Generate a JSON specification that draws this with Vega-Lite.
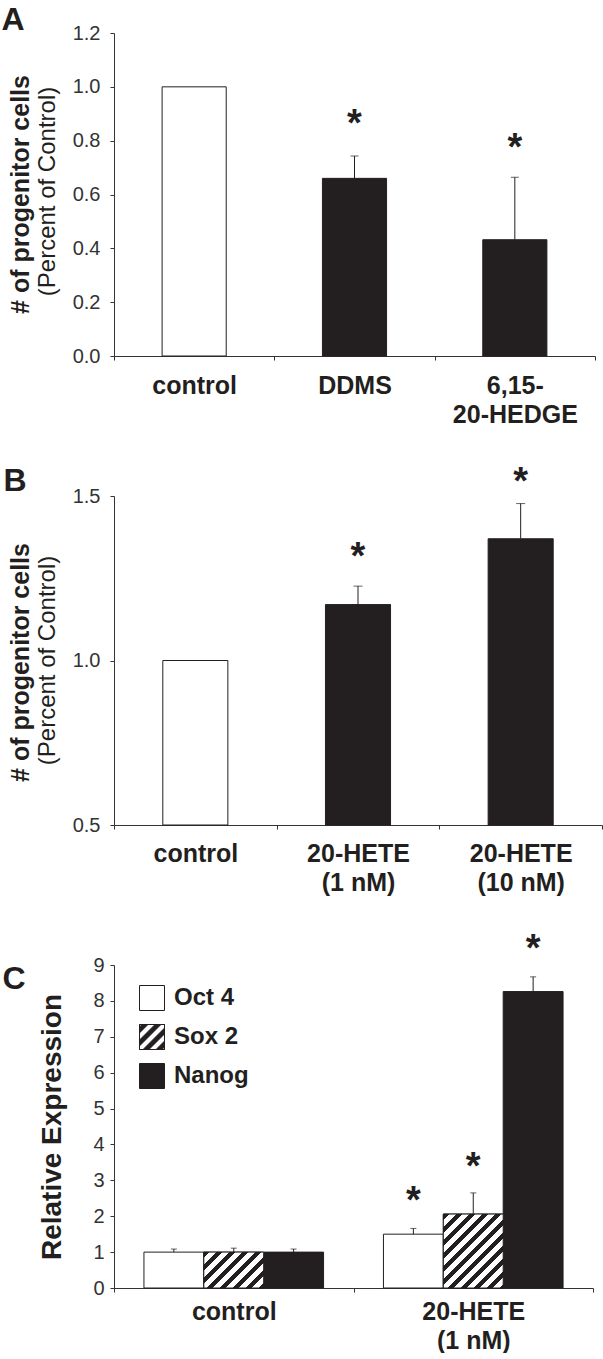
{
  "$schema": "https://vega.github.io/schema/vega-lite/v6.json",
  "autosize": {"type": "pad"},
  "padding": {"left": 1, "top": 3, "right": 0, "bottom": 0},
  "background": "white",
  "spacing": 140,
  "bounds": "flush",
  "resolve": {"scale": {"fill": "independent", "stroke": "independent", "shape": "independent", "x": "independent", "y": "independent", "xOffset": "independent"}, "legend": {"fill": "independent", "stroke": "independent", "shape": "independent"}},
  "datasets": {
    "a": [
      {"cat": "control", "kind": "control", "value": 1.0, "upper": null, "star": null},
      {"cat": "DDMS", "kind": "treated", "value": 0.66, "upper": 0.743, "star": 0.89},
      {"cat": "6,15-|20-HEDGE", "kind": "treated", "value": 0.432, "upper": 0.664, "star": 0.801}
    ],
    "b": [
      {"cat": "control", "kind": "control", "value": 1.0, "upper": null, "star": null},
      {"cat": "20-HETE|(1 nM)", "kind": "treated", "value": 1.17, "upper": 1.226, "star": 1.34},
      {"cat": "20-HETE|(10 nM)", "kind": "treated", "value": 1.37, "upper": 1.477, "star": 1.568}
    ],
    "c": [
      {"group": "control", "gene": "Oct 4", "value": 1.0, "upper": 1.085, "star": null},
      {"group": "control", "gene": "Sox 2", "value": 1.0, "upper": 1.11, "star": null},
      {"group": "control", "gene": "Nanog", "value": 1.0, "upper": 1.085, "star": null},
      {"group": "20-HETE|(1 nM)", "gene": "Oct 4", "value": 1.5, "upper": 1.66, "star": 2.66},
      {"group": "20-HETE|(1 nM)", "gene": "Sox 2", "value": 2.06, "upper": 2.65, "star": 3.59},
      {"group": "20-HETE|(1 nM)", "gene": "Nanog", "value": 8.26, "upper": 8.67, "star": 9.68}
    ]
  },
  "vconcat": [
    {
      "width": 481,
      "height": 323,
      "data": {"name": "a"},
      "encoding": {
        "x": {
          "field": "cat", "type": "nominal", "sort": null,
          "scale": {"domain": ["control", "DDMS", "6,15-|20-HEDGE"], "paddingInner": 0, "paddingOuter": 0},
          "axis": {"title": null, "labelAngle": 0, "labelFontSize": 25, "labelFontWeight": "bold", "labelColor": "#231f20", "labelLineHeight": 29, "labelPadding": 13, "labelBaseline": "top", "tickSize": 4, "tickBand": "extent", "labelExpr": "split(datum.label, '|')"}
        }
      },
      "layer": [
        {
          "mark": {"type": "bar", "width": {"band": 0.4}, "stroke": "#231f20", "strokeWidth": 1},
          "encoding": {
            "y": {"field": "value", "type": "quantitative", "scale": {"domain": [0, 1.2], "nice": false},
              "axis": {"orient": "left", "values": [0, 0.2, 0.4, 0.6, 0.8, 1.0, 1.2], "format": ".1f", "labelFontSize": 20, "labelPadding": 10, "tickSize": 4,
                "title": "(Percent of Control)", "titleFontSize": 24, "titleFontWeight": "normal", "titleX": -66.5, "titleY": 158, "titleAngle": -90, "titleAlign": "center", "titleBaseline": "middle"}},
            "fill": {"field": "kind", "type": "nominal", "scale": {"domain": ["control", "treated"], "range": ["#ffffff", "#231f20"]}, "legend": null}
          }
        },
        {
          "transform": [{"filter": "datum.upper != null"}],
          "mark": {"type": "rule", "color": "#231f20", "strokeWidth": 1},
          "encoding": {
            "y": {"field": "value", "type": "quantitative", "scale": {"domain": [0, 1.2], "nice": false},
              "axis": {"orient": "left", "labels": false, "ticks": false, "domain": false,
                "title": "# of progenitor cells", "titleFontSize": 25, "titleFontWeight": "bold", "titleX": -94, "titleY": 161, "titleAngle": -90, "titleAlign": "center", "titleBaseline": "middle"}},
            "y2": {"field": "upper"}
          }
        },
        {
          "transform": [{"filter": "datum.upper != null"}],
          "mark": {"type": "tick", "size": 8, "thickness": 1, "color": "#231f20"},
          "encoding": {
            "y": {"field": "upper", "type": "quantitative", "scale": {"domain": [0, 1.2], "nice": false}, "axis": null}
          }
        },
        {
          "transform": [{"filter": "datum.star != null"}],
          "mark": {"type": "text", "text": "*", "fontSize": 38, "fontWeight": "bold", "baseline": "middle", "dy": 9, "color": "#231f20"},
          "encoding": {
            "y": {"field": "star", "type": "quantitative", "scale": {"domain": [0, 1.2], "nice": false},
              "axis": {"orient": "left", "labels": false, "ticks": false, "domain": false,
                "title": "A", "titleFontSize": 32, "titleFontWeight": "bold", "titleAngle": 0, "titleAlign": "left", "titleBaseline": "alphabetic", "titleX": -113, "titleY": -4}}
          }
        }
      ],
      "resolve": {"axis": {"y": "independent"}}
    },
    {
      "width": 488,
      "height": 329,
      "data": {"name": "b"},
      "encoding": {
        "x": {
          "field": "cat", "type": "nominal", "sort": null,
          "scale": {"domain": ["control", "20-HETE|(1 nM)", "20-HETE|(10 nM)"], "paddingInner": 0, "paddingOuter": 0},
          "axis": {"title": null, "labelAngle": 0, "labelFontSize": 25, "labelFontWeight": "bold", "labelColor": "#231f20", "labelLineHeight": 29, "labelPadding": 12, "labelBaseline": "top", "tickSize": 4, "tickBand": "extent", "labelExpr": "split(datum.label, '|')"}
        }
      },
      "layer": [
        {
          "mark": {"type": "bar", "width": {"band": 0.4}, "stroke": "#231f20", "strokeWidth": 1},
          "encoding": {
            "y": {"field": "value", "type": "quantitative", "scale": {"domain": [0.5, 1.5], "nice": false, "zero": false},
              "axis": {"orient": "left", "values": [0.5, 1.0, 1.5], "format": ".1f", "labelFontSize": 20, "labelPadding": 10, "tickSize": 4,
                "title": "(Percent of Control)", "titleFontSize": 24, "titleFontWeight": "normal", "titleX": -66.5, "titleY": 164, "titleAngle": -90, "titleAlign": "center", "titleBaseline": "middle"}},
            "y2": {"datum": 0.5},
            "fill": {"field": "kind", "type": "nominal", "scale": {"domain": ["control", "treated"], "range": ["#ffffff", "#231f20"]}, "legend": null}
          }
        },
        {
          "transform": [{"filter": "datum.upper != null"}],
          "mark": {"type": "rule", "color": "#231f20", "strokeWidth": 1},
          "encoding": {
            "y": {"field": "value", "type": "quantitative", "scale": {"domain": [0.5, 1.5], "nice": false, "zero": false},
              "axis": {"orient": "left", "labels": false, "ticks": false, "domain": false,
                "title": "# of progenitor cells", "titleFontSize": 25, "titleFontWeight": "bold", "titleX": -94, "titleY": 166, "titleAngle": -90, "titleAlign": "center", "titleBaseline": "middle"}},
            "y2": {"field": "upper"}
          }
        },
        {
          "transform": [{"filter": "datum.upper != null"}],
          "mark": {"type": "tick", "size": 9, "thickness": 1, "color": "#231f20"},
          "encoding": {
            "y": {"field": "upper", "type": "quantitative", "scale": {"domain": [0.5, 1.5], "nice": false, "zero": false}, "axis": null}
          }
        },
        {
          "transform": [{"filter": "datum.star != null"}],
          "mark": {"type": "text", "text": "*", "fontSize": 38, "fontWeight": "bold", "baseline": "middle", "dy": 9, "color": "#231f20"},
          "encoding": {
            "y": {"field": "star", "type": "quantitative", "scale": {"domain": [0.5, 1.5], "nice": false, "zero": false},
              "axis": {"orient": "left", "labels": false, "ticks": false, "domain": false,
                "title": "B", "titleFontSize": 32, "titleFontWeight": "bold", "titleAngle": 0, "titleAlign": "left", "titleBaseline": "alphabetic", "titleX": -111, "titleY": -6}}
          }
        }
      ],
      "resolve": {"axis": {"y": "independent"}}
    },
    {
      "width": 479,
      "height": 323,
      "data": {"name": "c"},
      "encoding": {
        "x": {
          "field": "group", "type": "nominal", "sort": null,
          "scale": {"domain": ["control", "20-HETE|(1 nM)"], "paddingInner": 0, "paddingOuter": 0},
          "axis": {"title": null, "labelAngle": 0, "labelFontSize": 25, "labelFontWeight": "bold", "labelColor": "#231f20", "labelLineHeight": 29, "labelPadding": 7, "labelBaseline": "top", "tickSize": 4, "tickBand": "extent", "labelExpr": "split(datum.label, '|')"}
        },
        "xOffset": {
          "field": "gene", "type": "nominal", "sort": null,
          "scale": {"domain": ["Oct 4", "Sox 2", "Nanog"], "paddingInner": 0, "paddingOuter": 0.5}
        }
      },
      "layer": [
        {
          "mark": {"type": "bar", "strokeWidth": 1},
          "encoding": {
            "y": {"field": "value", "type": "quantitative", "scale": {"domain": [0, 9], "nice": false},
              "axis": {"orient": "left", "values": [0, 1, 2, 3, 4, 5, 6, 7, 8, 9], "labelFontSize": 20, "labelPadding": 6, "tickSize": 4,
                "title": "Relative Expression", "titleFontSize": 28, "titleFontWeight": "bold", "titleX": -62, "titleY": 161.5, "titleAngle": -90, "titleAlign": "center", "titleBaseline": "middle"}},
            "fill": {
              "field": "gene", "type": "nominal",
              "scale": {"domain": ["Oct 4", "Sox 2", "Nanog"], "range": ["#ffffff", "#231f20", "#231f20"]},
              "legend": {"orient": "none", "legendX": 25, "legendY": 20, "title": null, "padding": 0, "symbolSize": 625, "symbolStrokeWidth": 1, "symbolOpacity": 1, "labelFontSize": 24, "labelFontWeight": "bold", "labelColor": "#231f20", "labelOffset": 9, "rowPadding": 9}
            },
            "stroke": {
              "field": "gene", "type": "nominal",
              "scale": {"domain": ["Oct 4", "Sox 2", "Nanog"], "range": ["#231f20", "#231f20", "#231f20"]},
              "legend": {"orient": "none", "legendX": 25, "legendY": 20, "title": null, "padding": 0, "symbolSize": 625, "symbolStrokeWidth": 1, "symbolOpacity": 1, "labelFontSize": 24, "labelFontWeight": "bold", "labelColor": "#231f20", "labelOffset": 9, "rowPadding": 9}
            }
          }
        },
        {
          "transform": [{"filter": "false"}],
          "mark": {"type": "point", "filled": true},
          "encoding": {
            "y": {"field": "value", "type": "quantitative", "scale": {"domain": [0, 9], "nice": false}, "axis": null},
            "fill": {
              "field": "gene", "type": "nominal",
              "scale": {"domain": ["Oct 4", "Sox 2", "Nanog"], "range": ["#ffffff", "#231f20", "#231f20"]},
              "legend": {"orient": "none", "legendX": 25, "legendY": 20, "title": null, "padding": 0, "symbolSize": 625, "symbolStrokeWidth": 1, "symbolOpacity": 1, "labelFontSize": 24, "labelFontWeight": "bold", "labelColor": "#231f20", "labelOffset": 9, "rowPadding": 9}
            },
            "stroke": {
              "field": "gene", "type": "nominal",
              "scale": {"domain": ["Oct 4", "Sox 2", "Nanog"], "range": ["#231f20", "#231f20", "#231f20"]},
              "legend": {"orient": "none", "legendX": 25, "legendY": 20, "title": null, "padding": 0, "symbolSize": 625, "symbolStrokeWidth": 1, "symbolOpacity": 1, "labelFontSize": 24, "labelFontWeight": "bold", "labelColor": "#231f20", "labelOffset": 9, "rowPadding": 9}
            },
            "shape": {
              "field": "gene", "type": "nominal",
              "scale": {"domain": ["Oct 4", "Sox 2", "Nanog"], "range": [
                "square",
                "M-1,-1H1V1H-1Z M-1,-1V1H1V-1Z M-1,-0.795L-0.795,-1L-0.325,-1L-1,-0.325Z M-1,0.245L0.245,-1L0.715,-1L-1,0.715Z M-0.715,1L1,-0.715L1,-0.245L-0.245,1Z M0.325,1L1,0.325L1,0.795L0.795,1Z",
                "square"
              ]},
              "legend": {"orient": "none", "legendX": 25, "legendY": 20, "title": null, "padding": 0, "symbolSize": 625, "symbolStrokeWidth": 1, "symbolOpacity": 1, "labelFontSize": 24, "labelFontWeight": "bold", "labelColor": "#231f20", "labelOffset": 9, "rowPadding": 9}
            }
          }
        },
        {
          "transform": [{"filter": "datum.gene === 'Sox 2' && datum.group === 'control'"}],
          "mark": {"type": "bar", "stroke": "#231f20", "strokeWidth": 1,
            "fill": {"gradient": "linear", "x1": 0, "y1": 0, "x2": 1.177, "y2": 0.705, "stops": [
              {"offset": 0, "color": "#231f20"}, {"offset": 0.0608, "color": "#231f20"},
              {"offset": 0.0608, "color": "#ffffff"}, {"offset": 0.1351, "color": "#ffffff"},
              {"offset": 0.1351, "color": "#231f20"}, {"offset": 0.1959, "color": "#231f20"},
              {"offset": 0.1959, "color": "#ffffff"}, {"offset": 0.2703, "color": "#ffffff"},
              {"offset": 0.2703, "color": "#231f20"}, {"offset": 0.3311, "color": "#231f20"},
              {"offset": 0.3311, "color": "#ffffff"}, {"offset": 0.4054, "color": "#ffffff"},
              {"offset": 0.4054, "color": "#231f20"}, {"offset": 0.4662, "color": "#231f20"},
              {"offset": 0.4662, "color": "#ffffff"}, {"offset": 0.5405, "color": "#ffffff"},
              {"offset": 0.5405, "color": "#231f20"}, {"offset": 0.6014, "color": "#231f20"},
              {"offset": 0.6014, "color": "#ffffff"}, {"offset": 0.6757, "color": "#ffffff"},
              {"offset": 0.6757, "color": "#231f20"}, {"offset": 0.7365, "color": "#231f20"},
              {"offset": 0.7365, "color": "#ffffff"}, {"offset": 0.8108, "color": "#ffffff"},
              {"offset": 0.8108, "color": "#231f20"}, {"offset": 0.8716, "color": "#231f20"},
              {"offset": 0.8716, "color": "#ffffff"}, {"offset": 0.9459, "color": "#ffffff"},
              {"offset": 0.9459, "color": "#231f20"}, {"offset": 1, "color": "#231f20"}
            ]}},
          "encoding": {
            "y": {"field": "value", "type": "quantitative", "scale": {"domain": [0, 9], "nice": false}, "axis": null}
          }
        },
        {
          "transform": [{"filter": "datum.gene === 'Sox 2' && datum.group !== 'control'"}],
          "mark": {"type": "bar", "stroke": "#231f20", "strokeWidth": 1,
            "fill": {"gradient": "linear", "x1": 0, "y1": 0, "x2": 0.885, "y2": 1.093, "stops": [
              {"offset": 0, "color": "#231f20"}, {"offset": 0.0437, "color": "#231f20"},
              {"offset": 0.0437, "color": "#ffffff"}, {"offset": 0.0971, "color": "#ffffff"},
              {"offset": 0.0971, "color": "#231f20"}, {"offset": 0.1408, "color": "#231f20"},
              {"offset": 0.1408, "color": "#ffffff"}, {"offset": 0.1942, "color": "#ffffff"},
              {"offset": 0.1942, "color": "#231f20"}, {"offset": 0.2379, "color": "#231f20"},
              {"offset": 0.2379, "color": "#ffffff"}, {"offset": 0.2913, "color": "#ffffff"},
              {"offset": 0.2913, "color": "#231f20"}, {"offset": 0.3350, "color": "#231f20"},
              {"offset": 0.3350, "color": "#ffffff"}, {"offset": 0.3883, "color": "#ffffff"},
              {"offset": 0.3883, "color": "#231f20"}, {"offset": 0.4320, "color": "#231f20"},
              {"offset": 0.4320, "color": "#ffffff"}, {"offset": 0.4854, "color": "#ffffff"},
              {"offset": 0.4854, "color": "#231f20"}, {"offset": 0.5291, "color": "#231f20"},
              {"offset": 0.5291, "color": "#ffffff"}, {"offset": 0.5825, "color": "#ffffff"},
              {"offset": 0.5825, "color": "#231f20"}, {"offset": 0.6262, "color": "#231f20"},
              {"offset": 0.6262, "color": "#ffffff"}, {"offset": 0.6796, "color": "#ffffff"},
              {"offset": 0.6796, "color": "#231f20"}, {"offset": 0.7233, "color": "#231f20"},
              {"offset": 0.7233, "color": "#ffffff"}, {"offset": 0.7767, "color": "#ffffff"},
              {"offset": 0.7767, "color": "#231f20"}, {"offset": 0.8204, "color": "#231f20"},
              {"offset": 0.8204, "color": "#ffffff"}, {"offset": 0.8738, "color": "#ffffff"},
              {"offset": 0.8738, "color": "#231f20"}, {"offset": 0.9175, "color": "#231f20"},
              {"offset": 0.9175, "color": "#ffffff"}, {"offset": 0.9709, "color": "#ffffff"},
              {"offset": 0.9709, "color": "#231f20"}, {"offset": 1, "color": "#231f20"}
            ]}},
          "encoding": {
            "y": {"field": "value", "type": "quantitative", "scale": {"domain": [0, 9], "nice": false}, "axis": null}
          }
        },
        {
          "mark": {"type": "rule", "color": "#231f20", "strokeWidth": 1},
          "encoding": {
            "y": {"field": "value", "type": "quantitative", "scale": {"domain": [0, 9], "nice": false}, "axis": null},
            "y2": {"field": "upper"}
          }
        },
        {
          "mark": {"type": "tick", "size": 6, "thickness": 1, "color": "#231f20"},
          "encoding": {
            "y": {"field": "upper", "type": "quantitative", "scale": {"domain": [0, 9], "nice": false}, "axis": null}
          }
        },
        {
          "transform": [{"filter": "datum.star != null"}],
          "mark": {"type": "text", "text": "*", "fontSize": 38, "fontWeight": "bold", "baseline": "middle", "dy": 9, "color": "#231f20"},
          "encoding": {
            "y": {"field": "star", "type": "quantitative", "scale": {"domain": [0, 9], "nice": false},
              "axis": {"orient": "left", "labels": false, "ticks": false, "domain": false,
                "title": "C", "titleFontSize": 32, "titleFontWeight": "bold", "titleAngle": 0, "titleAlign": "left", "titleBaseline": "alphabetic", "titleX": -112, "titleY": 23}}
          }
        }
      ],
      "resolve": {"axis": {"y": "independent"}}
    }
  ],
  "config": {
    "font": "Liberation Sans",
    "view": {"stroke": null},
    "axis": {"grid": false, "domainColor": "#333333", "tickColor": "#333333", "labelColor": "#333333", "titleColor": "#231f20", "labelFont": "Liberation Sans", "titleFont": "Liberation Sans", "domainWidth": 1, "tickWidth": 1},
    "legend": {"labelFont": "Liberation Sans"},
    "text": {"font": "Liberation Sans"}
  }
}
